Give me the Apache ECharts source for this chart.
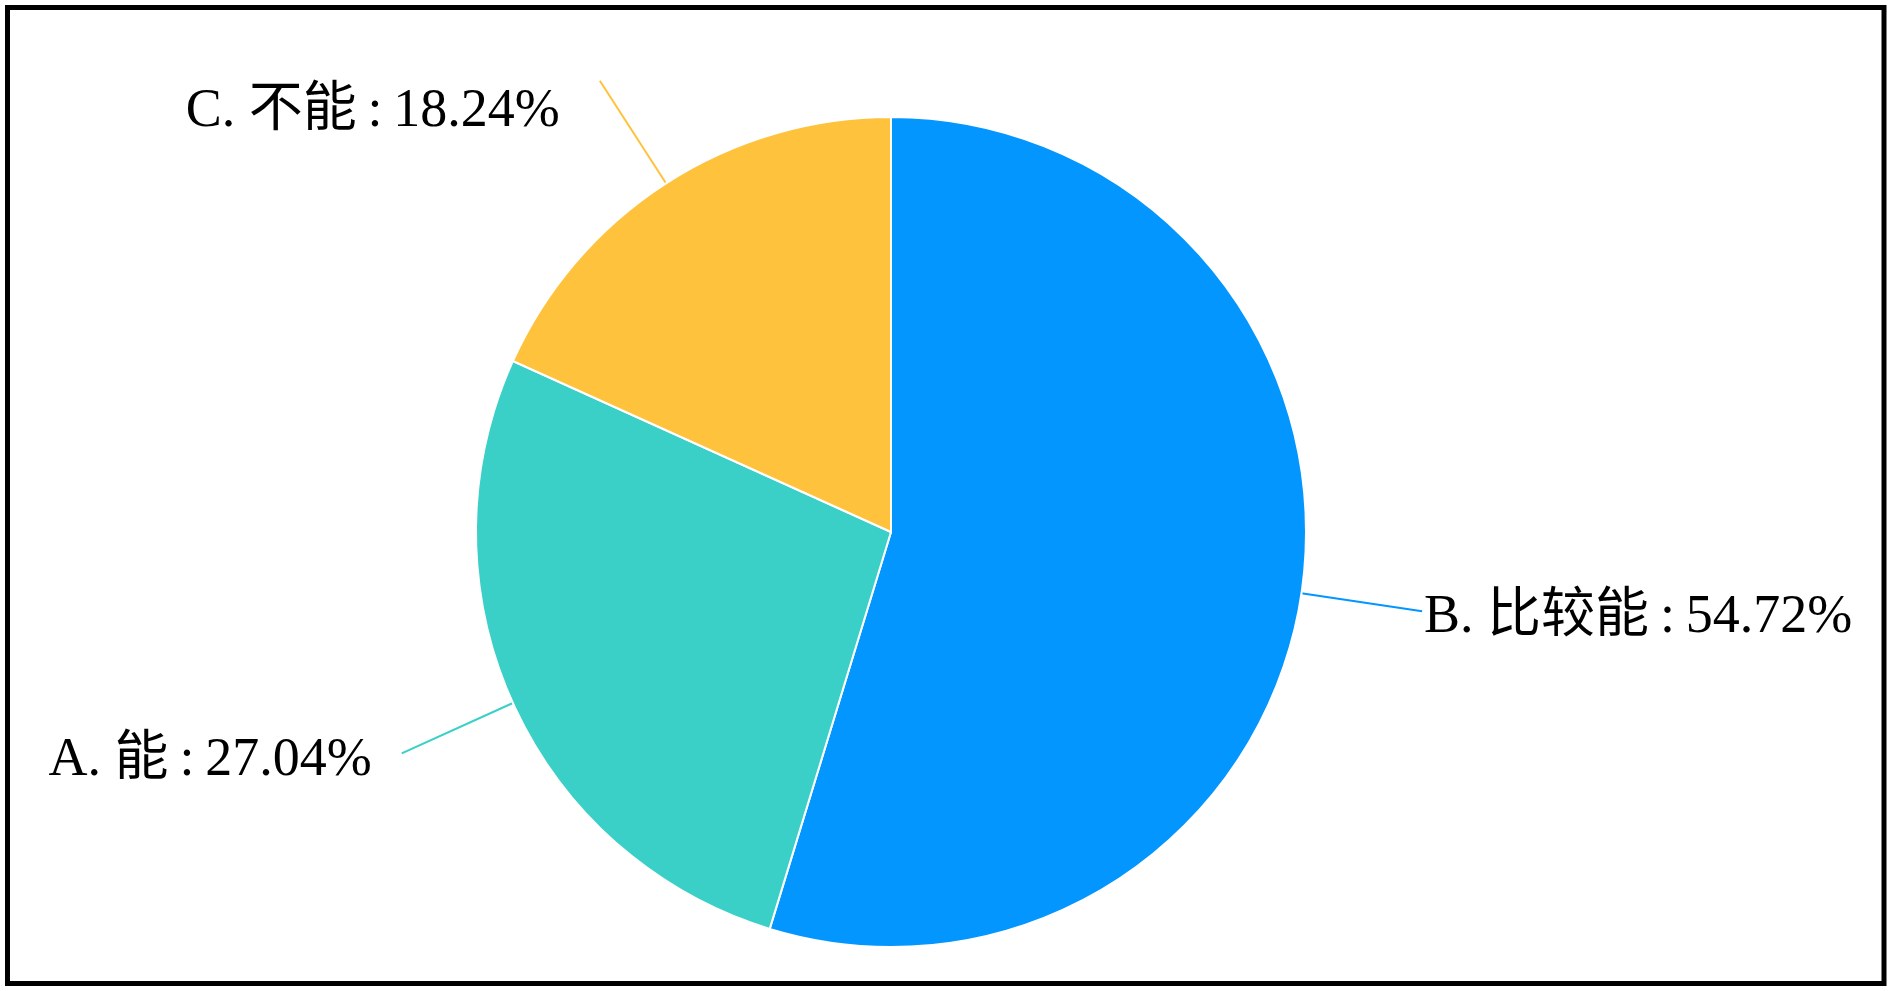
<!DOCTYPE html>
<html>
<head>
<meta charset="utf-8">
<script src="https://cdn.jsdelivr.net/npm/echarts@6/dist/echarts.min.js"></script>
<style>
  html,body{margin:0;padding:0;background:#fff;}
  #main{width:1891px;height:991px;}
</style>
</head>
<body>
<div id="main"></div>
<script>
// 数据（顺时针从12点开始）
var names = ['B. 比较能', 'A. 能', 'C. 不能'];
var values = [54.72, 27.04, 18.24];
var colors = ['#0396FF', '#3AD0C8', '#FFC23C'];
var labelDrop = [12, 16, 62]; // 标签文字略低于引导线末端
var labelGap = [2, 30, 40];

var pieData = [];
for (var i = 0; i < names.length; i++) {
  pieData.push({
    name: names[i],
    value: values[i],
    itemStyle: { color: colors[i] },
    label: {
      distanceToLabelLine: labelGap[i],
      rich: {
        s: { fontSize: 2, lineHeight: labelDrop[i] },
        t: {
          fontSize: 54,
          color: '#000',
          fontFamily: '"Liberation Serif", "Times New Roman", "Noto Sans CJK SC", serif'
        }
      }
    },
    labelLine: { lineStyle: { color: colors[i] } }
  });
}

var chart = echarts.init(document.getElementById('main'));
var option = {
  backgroundColor: '#fff',
  animation: false,
  graphic: [{
    type: 'rect',
    shape: { x: 7.5, y: 7.5, width: 1876.5, height: 976 },
    style: { fill: 'none', stroke: '#000', lineWidth: 5 }
  }],
  series: [{
    type: 'pie',
    center: [891, 532],
    radius: 415,
    startAngle: 90,
    clockwise: true,
    itemStyle: { borderColor: '#fff', borderWidth: 2 },
    label: {
      show: true,
      formatter: '{s| }\n{t|{b}\u2009:\u2009{c}%}',
      overflow: 'none',
      color: '#000',
      fontSize: 54,
      fontFamily: '"Liberation Serif", "Times New Roman", "Noto Sans CJK SC", serif'
    },
    labelLine: {
      show: true,
      length: 122,
      length2: 0,
      smooth: 0.3,
      lineStyle: { width: 2 }
    },
    data: pieData
  }]
};
chart.setOption(option);
</script>
</body>
</html>
